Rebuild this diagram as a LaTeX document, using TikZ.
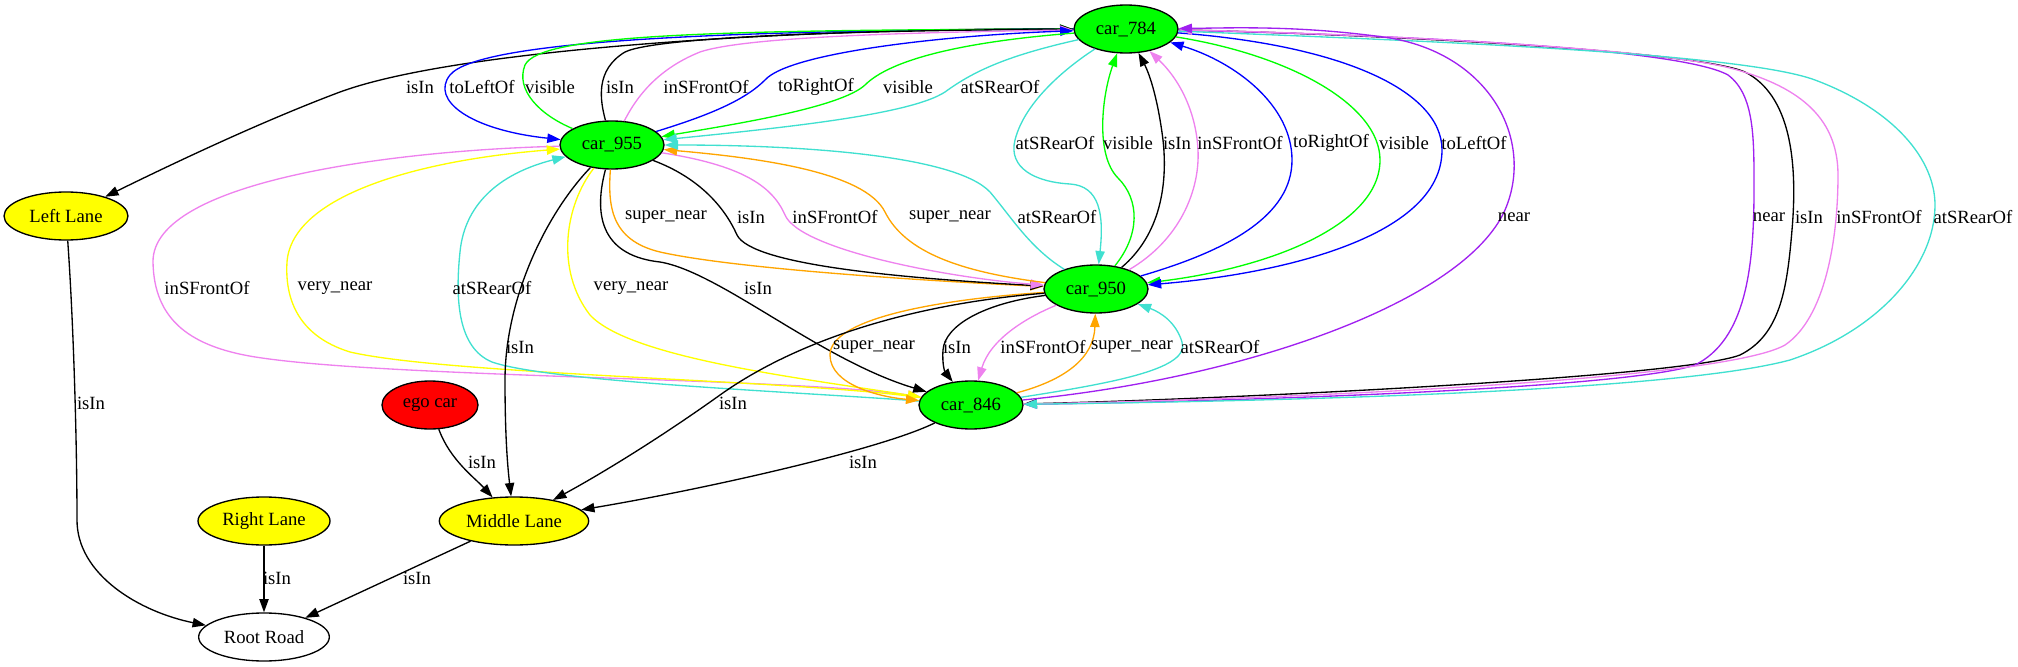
\documentclass[tikz,border=0pt]{standalone}
\usepackage{fontspec}
\setmainfont{Liberation Serif}
\usetikzlibrary{shapes.geometric, arrows.meta}
\definecolor{gvgreen}{HTML}{00FF00}
\definecolor{gvblue}{HTML}{0000FF}
\definecolor{gvviolet}{HTML}{EE82EE}
\definecolor{gvturq}{HTML}{40E0D0}
\definecolor{gvorange}{HTML}{FFA500}
\definecolor{gvyellow}{HTML}{FFFF00}
\definecolor{gvpurple}{HTML}{A020F0}
\definecolor{gvred}{HTML}{FF0000}
\begin{document}
\begin{tikzpicture}[x=0.75pt, y=-0.75pt,
  nd/.style={ellipse, draw=black, line width=1pt, minimum height=36pt, inner sep=0pt, font=\fontsize{14}{16}\selectfont},
  carnode/.style={nd, fill=gvgreen, minimum width=78pt},
  lane/.style={nd, fill=gvyellow},
  ed/.style={line width=1pt, -{Triangle[length=10pt,width=7pt]}},
  lbl/.style={inner sep=0pt, font=\fontsize{14}{16}\selectfont}]
\useasboundingbox (0,0) rectangle (2018,667);

% nodes
\node[carnode] (c784) at (1126,29) {car\_784};
\node[carnode] (c955) at (612,145) {car\_955};
\node[carnode] (c950) at (1096,289) {car\_950};
\node[carnode] (c846) at (971,405) {car\_846};
\node[lane, minimum width=93pt] (LL) at (66,216) {Left Lane};
\node[nd, fill=gvred, minimum width=72pt] (ego) at (430,405) {ego car};
\node[lane, minimum width=99pt] (RL) at (264,521) {Right Lane};
\node[lane, minimum width=112pt] (ML) at (514,521) {Middle Lane};
\node[nd, fill=white, minimum width=98pt] (RR) at (264,637) {Root Road};

% car_784 <-> car_955 and Left Lane
\draw[ed] (c784) .. controls (800,28) and (460,48) .. (340,92) .. controls (260,122) and (170,165) .. (LL);
\draw[ed, gvblue] (c784) .. controls (760,30) and (480,38) .. (450,75) .. controls (430,100) and (470,130) .. (c955);
\draw[ed, gvgreen] (c955) .. controls (540,115) and (515,90) .. (525,65) .. controls (540,35) and (700,30) .. (c784);
\draw[ed] (c955) .. controls (600,100) and (595,70) .. (625,52) .. controls (660,35) and (900,30) .. (c784);
\draw[ed, gvviolet] (c955) .. controls (635,100) and (655,70) .. (700,52) .. controls (750,35) and (950,32) .. (c784);
\draw[ed, gvblue] (c955) .. controls (710,115) and (745,100) .. (765,80) .. controls (790,52) and (950,35) .. (c784);
\draw[ed, gvgreen] (c784) .. controls (960,42) and (890,60) .. (865,85) .. controls (840,108) and (730,125) .. (c955);
\draw[ed, gvturq] (c784) .. controls (1010,55) and (975,70) .. (945,92) .. controls (910,115) and (780,128) .. (c955);

% car_784 <-> car_950
\draw[ed, gvturq] (c784) .. controls (1070,65) and (1025,100) .. (1015,140) .. controls (1008,168) and (1035,182) .. (1070,184) .. controls (1100,186) and (1104,215) .. (c950);
\draw[ed, gvgreen] (c950) .. controls (1140,235) and (1140,200) .. (1118,178) .. controls (1095,155) and (1102,95) .. (c784);
\draw[ed] (c950) .. controls (1160,235) and (1168,185) .. (1163,140) .. controls (1158,100) and (1150,75) .. (c784);
\draw[ed, gvviolet] (c950) .. controls (1180,240) and (1200,190) .. (1198,150) .. controls (1196,110) and (1178,78) .. (c784);
\draw[ed, gvblue] (c950) .. controls (1230,250) and (1292,215) .. (1292,160) .. controls (1292,105) and (1235,62) .. (c784);
\draw[ed, gvgreen] (c784) .. controls (1290,55) and (1380,105) .. (1380,160) .. controls (1380,225) and (1270,268) .. (c950);
\draw[ed, gvblue] (c784) .. controls (1340,45) and (1442,90) .. (1442,150) .. controls (1442,240) and (1270,275) .. (c950);

% car_784 <-> car_846
\draw[ed] (c784) .. controls (1300,32) and (1690,48) .. (1745,72) .. controls (1790,95) and (1798,160) .. (1792,230) .. controls (1787,290) and (1780,335) .. (1740,355) .. controls (1680,378) and (1200,400) .. (c846);
\draw[ed, gvpurple] (c784) .. controls (1400,35) and (1680,48) .. (1728,75) .. controls (1755,95) and (1754,140) .. (1754,190) .. controls (1754,270) and (1745,340) .. (1695,365) .. controls (1620,390) and (1200,402) .. (c846);
\draw[ed, gvviolet] (c846) .. controls (1250,400) and (1720,382) .. (1785,345) .. controls (1825,318) and (1838,240) .. (1838,175) .. controls (1838,115) and (1795,85) .. (1730,68) .. controls (1640,45) and (1300,32) .. (c784);
\draw[ed, gvturq] (c784) .. controls (1400,40) and (1740,52) .. (1815,80) .. controls (1895,110) and (1935,160) .. (1935,205) .. controls (1935,265) and (1880,330) .. (1790,360) .. controls (1660,395) and (1200,402) .. (c846);
\draw[ed, gvpurple] (c846) .. controls (1250,378) and (1465,300) .. (1505,210) .. controls (1535,140) and (1490,55) .. (1390,38) .. controls (1300,25) and (1230,28) .. (c784);

% car_955 <-> car_950
\draw[ed, gvorange] (c955) .. controls (608,205) and (610,240) .. (660,252) .. controls (740,270) and (950,282) .. (c950);
\draw[ed] (c955) .. controls (700,178) and (725,208) .. (737,235) .. controls (752,265) and (900,278) .. (c950);
\draw[ed, gvviolet] (c955) .. controls (740,165) and (772,185) .. (785,215) .. controls (800,250) and (950,278) .. (c950);
\draw[ed, gvorange] (c950) .. controls (960,272) and (905,252) .. (885,212) .. controls (865,172) and (760,158) .. (c955);
\draw[ed, gvturq] (c950) .. controls (1030,248) and (1012,218) .. (990,192) .. controls (955,155) and (800,145) .. (c955);

% car_955 <-> car_846, Middle Lane
\draw[ed, gvviolet] (c955) .. controls (400,150) and (152,180) .. (153,262) .. controls (154,320) and (190,348) .. (262,358) .. controls (400,378) and (800,378) .. (c846);
\draw[ed, gvyellow] (c846) .. controls (800,380) and (450,375) .. (350,352) .. controls (295,335) and (285,295) .. (287,262) .. controls (292,195) and (420,160) .. (c955);
\draw[ed, gvturq] (c846) .. controls (800,392) and (550,382) .. (492,362) .. controls (458,348) and (455,300) .. (460,252) .. controls (465,200) and (505,172) .. (c955);
\draw[ed] (c955) .. controls (545,215) and (505,300) .. (505,380) .. controls (505,440) and (508,470) .. (ML);
\draw[ed, gvyellow] (c955) .. controls (565,205) and (555,270) .. (590,315) .. controls (630,358) and (800,378) .. (c846);
\draw[ed] (c955) .. controls (592,220) and (605,256) .. (660,262) .. controls (720,272) and (820,360) .. (c846);

% car_950 <-> car_846, Middle Lane
\draw[ed, gvorange] (c950) .. controls (930,300) and (830,320) .. (830,355) .. controls (830,385) and (880,397) .. (c846);
\draw[ed] (c950) .. controls (985,303) and (945,325) .. (943,350) .. controls (942,365) and (945,372) .. (c846);
\draw[ed, gvviolet] (c950) .. controls (1025,318) and (990,340) .. (c846);
\draw[ed, gvorange] (c846) .. controls (1065,380) and (1094,358) .. (c950);
\draw[ed, gvturq] (c846) .. controls (1120,382) and (1190,368) .. (1182,342) .. controls (1176,322) and (1160,312) .. (c950);
\draw[ed] (c950) .. controls (900,305) and (790,345) .. (720,395) .. controls (650,445) and (590,480) .. (ML);

% lower part
\draw[ed] (ego) .. controls (450,460) and (475,478) .. (ML);
\draw[ed] (c846) .. controls (880,450) and (700,490) .. (ML);
\draw[ed] (LL) .. controls (74,330) and (77,450) .. (77,520) .. controls (77,575) and (140,612) .. (RR);
\draw[ed] (RL) -- (RR);
\draw[ed] (ML) -- (RR);

% labels
\node[lbl] (l1) at (420,87) {isIn};
\node[lbl] (l2) at (482,87) {toLeftOf};
\node[lbl] (l3) at (550,87) {visible};
\node[lbl] (l4) at (620,87) {isIn};
\node[lbl] (l5) at (706,87) {inSFrontOf};
\node[lbl] (l6) at (816,87) {toRightOf};
\node[lbl] (l7) at (908,87) {visible};
\node[lbl] (l8) at (1000,87) {atSRearOf};
\node[lbl] (l9) at (1055,143) {atSRearOf};
\node[lbl] (l10) at (1128,143) {visible};
\node[lbl] (l11) at (1177,143) {isIn};
\node[lbl] (l12) at (1240,143) {inSFrontOf};
\node[lbl] (l13) at (1331,143) {toRightOf};
\node[lbl] (l14) at (1404,143) {visible};
\node[lbl] (l15) at (1474,143) {toLeftOf};
\node[lbl] (l16) at (1514,217) {near};
\node[lbl] (l17) at (1769,217) {near};
\node[lbl] (l18) at (1809,217) {isIn};
\node[lbl] (l19) at (1879,217) {inSFrontOf};
\node[lbl] (l20) at (1973,217) {atSRearOf};
\node[lbl] (l21) at (666,217) {super\_near};
\node[lbl] (l22) at (751,217) {isIn};
\node[lbl] (l23) at (835,217) {inSFrontOf};
\node[lbl] (l24) at (950,217) {super\_near};
\node[lbl] (l25) at (1057,217) {atSRearOf};
\node[lbl] (l26) at (207,288) {inSFrontOf};
\node[lbl] (l27) at (335,288) {very\_near};
\node[lbl] (l28) at (492,288) {atSRearOf};
\node[lbl] (l29) at (520,347) {isIn};
\node[lbl] (l30) at (631,288) {very\_near};
\node[lbl] (l31) at (758,288) {isIn};
\node[lbl] (l32) at (874,347) {super\_near};
\node[lbl] (l33) at (957,347) {isIn};
\node[lbl] (l34) at (1043,347) {inSFrontOf};
\node[lbl] (l35) at (1132,347) {super\_near};
\node[lbl] (l36) at (1220,347) {atSRearOf};
\node[lbl] (l37) at (733,403) {isIn};
\node[lbl] (l38) at (482,462) {isIn};
\node[lbl] (l39) at (863,462) {isIn};
\node[lbl] (l40) at (91,403) {isIn};
\node[lbl] (l41) at (277,578) {isIn};
\node[lbl] (l42) at (417,578) {isIn};
\end{tikzpicture}
\end{document}
